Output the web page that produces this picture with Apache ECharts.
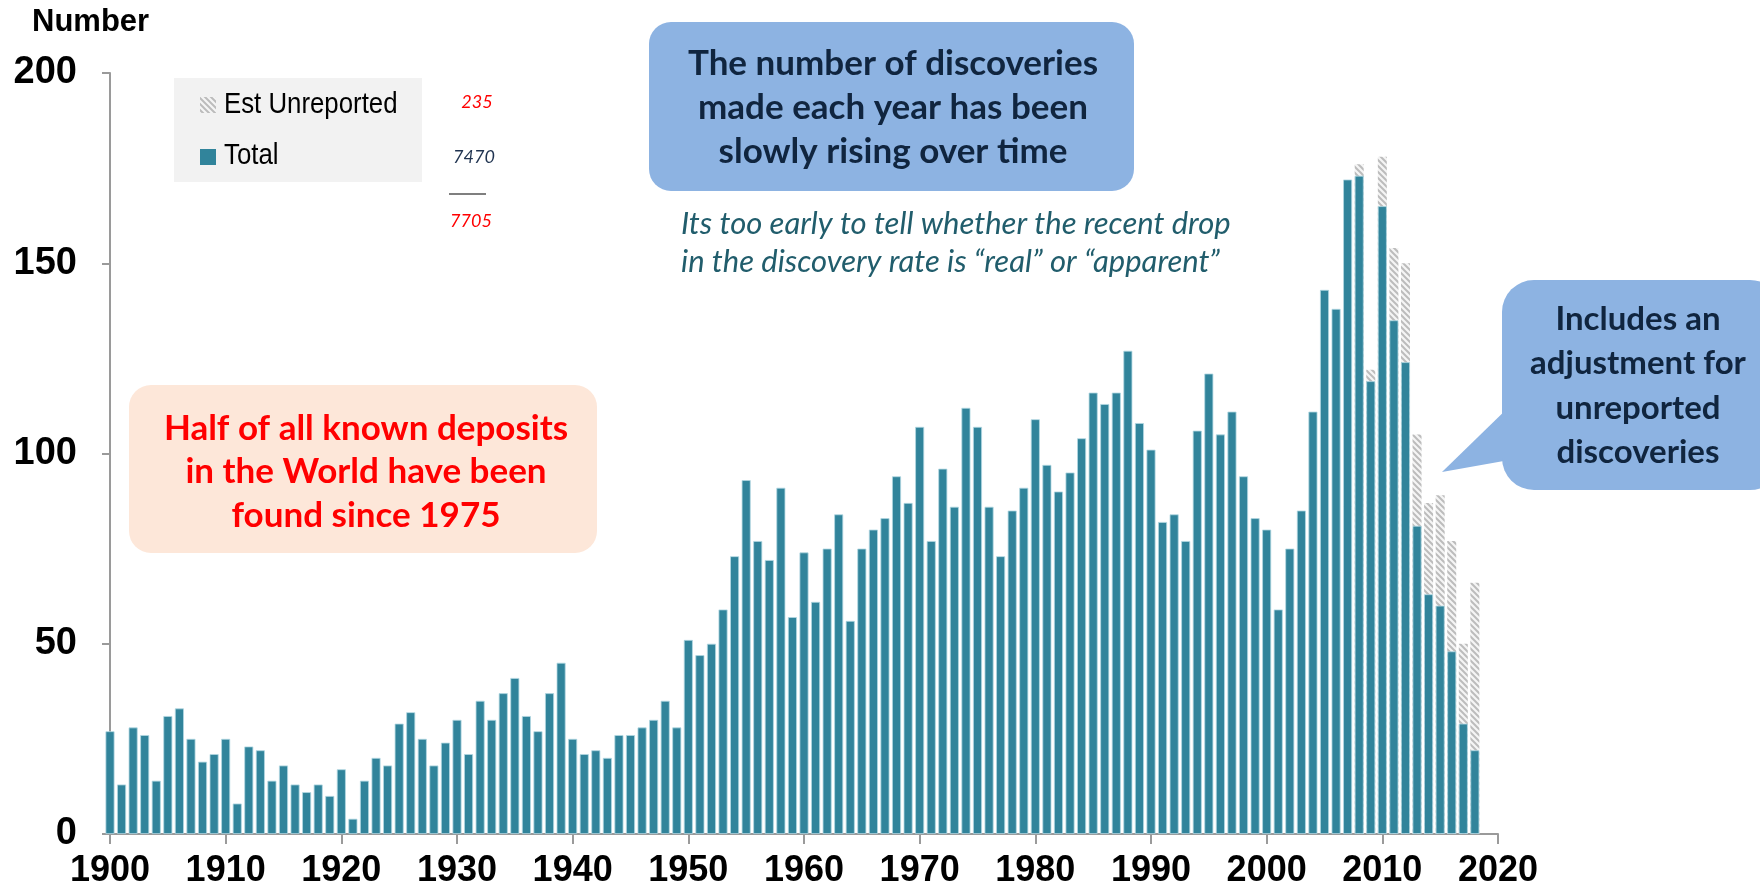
<!DOCTYPE html>
<html>
<head>
<meta charset="utf-8">
<script src="https://cdn.jsdelivr.net/npm/echarts@6/dist/echarts.min.js"></script>
<style>
  html, body { margin: 0; padding: 0; background: #fff; }
  #chart { width: 1760px; height: 896px; }
</style>
</head>
<body>
<div id="chart"></div>
<script>
// discoveries per year, 1900 .. 2018
const startYear = 1900;
const total = [
  27, 13, 28, 26, 14, 31, 33, 25, 19, 21,
  25, 8, 23, 22, 14, 18, 13, 11, 13, 10,
  17, 4, 14, 20, 18, 29, 32, 25, 18, 24,
  30, 21, 35, 30, 37, 41, 31, 27, 37, 45,
  25, 21, 22, 20, 26, 26, 28, 30, 35, 28,
  51, 47, 50, 59, 73, 93, 77, 72, 91, 57,
  74, 61, 75, 84, 56, 75, 80, 83, 94, 87,
  107, 77, 96, 86, 112, 107, 86, 73, 85, 91,
  109, 97, 90, 95, 104, 116, 113, 116, 127, 108,
  101, 82, 84, 77, 106, 121, 105, 111, 94, 83,
  80, 59, 75, 85, 111, 143, 138, 172, 173, 119,
  165, 135, 124, 81, 63, 60, 48, 29, 22
];
// estimated unreported discoveries (only recent years)
const unreportedYears = [2008, 2009, 2010, 2011, 2012, 2013, 2014, 2015, 2016, 2017, 2018];
const unreported = [3, 3, 13, 19, 26, 24, 24, 29, 29, 21, 44];

const xTicks = [1900, 1910, 1920, 1930, 1940, 1950, 1960, 1970, 1980, 1990, 2000, 2010, 2020];
const yTicks = [0, 50, 100, 150, 200];

const totalData = total.map((v, i) => [startYear + i, v]);
// the hatched part sits on top of the total: draw it from 0 to total + unreported, behind the teal bar
const unrepTop = unreportedYears.map((y, k) => [y, total[y - startYear] + unreported[k]]);

// diagonal hatch used for the unreported part
function hatch() {
  const c = document.createElement('canvas');
  c.width = 6; c.height = 6;
  const g = c.getContext('2d');
  g.fillStyle = '#f5f5f5';
  g.fillRect(0, 0, 6, 6);
  g.strokeStyle = '#bcbcbc';
  g.lineWidth = 2;
  g.beginPath();
  g.moveTo(-1, -1); g.lineTo(7, 7);
  g.moveTo(-4, 2); g.lineTo(4, 10);
  g.moveTo(2, -4); g.lineTo(10, 4);
  g.stroke();
  return c;
}

const hatchFill = { image: hatch(), repeat: 'repeat' };
const teal = '#31849b';
const navy = '#10253f';
const axisFont = '"Liberation Sans", Arial';
const legendFont = '30px "Liberation Sans", Arial';

let myChart = echarts.init(document.getElementById('chart'));
let option = {
  animation: false,
  grid: { left: 110, right: 262, top: 73, bottom: 62 },
  xAxis: {
    type: 'value',
    min: xTicks[0], max: xTicks[xTicks.length - 1], interval: 10,
    splitLine: { show: false },
    axisLine: { show: true, lineStyle: { color: '#9a9a9a', width: 2 } },
    axisTick: { show: true, length: 10, lineStyle: { color: '#9a9a9a', width: 2 } },
    axisLabel: {
      margin: 19,
      fontSize: 36, fontWeight: 'bold', color: '#000',
      fontFamily: axisFont,
      formatter: v => String(v)
    }
  },
  yAxis: {
    type: 'value',
    min: yTicks[0], max: yTicks[yTicks.length - 1], interval: 50,
    splitLine: { show: false },
    axisLine: { show: true, lineStyle: { color: '#9a9a9a', width: 2 } },
    axisTick: { show: true, length: 8, lineStyle: { color: '#9a9a9a', width: 2 } },
    axisLabel: {
      margin: 33,
      fontSize: 38, fontWeight: 'bold', color: '#000',
      fontFamily: axisFont
    }
  },
  series: [
    {
      name: 'Est Unreported',
      type: 'bar',
      barWidth: 9,
      barGap: '-100%',
      itemStyle: { color: hatchFill },
      data: unrepTop
    },
    {
      name: 'Total',
      type: 'bar',
      barWidth: 9,
      barGap: '-100%',
      itemStyle: { color: teal, borderColor: '#b3d8e2', borderWidth: 0.8 },
      data: totalData
    }
  ],
  graphic: [
    { type: 'text', left: 32, top: 7,
      style: { text: 'Number', font: 'bold 31px "Liberation Sans", Arial', fill: '#000' } },

    // legend box (narrow type, like the original)
    { type: 'rect', shape: { x: 174, y: 78, width: 248, height: 104 }, style: { fill: '#f2f2f2' } },
    { type: 'rect', shape: { x: 200, y: 97, width: 16, height: 16 }, style: { fill: hatchFill } },
    { type: 'text', x: 224, y: 105, scaleX: 0.86,
      style: { text: 'Est Unreported', font: legendFont, fill: '#000', align: 'left', verticalAlign: 'middle' } },
    { type: 'rect', shape: { x: 200, y: 149, width: 16, height: 16 }, style: { fill: teal } },
    { type: 'text', x: 224, y: 156, scaleX: 0.86,
      style: { text: 'Total', font: legendFont, fill: '#000', align: 'left', verticalAlign: 'middle' } },

    { type: 'text', x: 477, y: 102,
      style: { text: '235', font: 'italic 18px Lato, sans-serif', fill: '#ff0000', align: 'center', verticalAlign: 'middle' } },
    { type: 'text', x: 474, y: 157,
      style: { text: '7470', font: 'italic 18px Lato, sans-serif', fill: '#1f3350', align: 'center', verticalAlign: 'middle' } },
    { type: 'line', shape: { x1: 449, y1: 194, x2: 486, y2: 194 }, style: { stroke: '#555', lineWidth: 1.5 } },
    { type: 'text', x: 471, y: 221,
      style: { text: '7705', font: 'italic 18px Lato, sans-serif', fill: '#ff0000', align: 'center', verticalAlign: 'middle' } },

    // top callout
    { type: 'rect', shape: { x: 649, y: 22, width: 485, height: 169, r: 22 }, style: { fill: '#8db3e2' } },
    { type: 'text', x: 893, y: 108,
      style: { text: 'The number of discoveries\nmade each year has been\nslowly rising over time',
               font: 'bold 35px Lato, "Noto Sans", sans-serif', lineHeight: 44, fill: navy, align: 'center', verticalAlign: 'middle' } },
    { type: 'text', x: 681, y: 243,
      style: { text: 'Its too early to tell whether the recent drop\nin the discovery rate is \u201creal\u201d or \u201capparent\u201d',
               font: 'italic 31px Lato, sans-serif', lineHeight: 38, fill: '#215d6c', align: 'left', verticalAlign: 'middle' } },

    // right callout
    { type: 'polygon', shape: { points: [[1442, 472], [1515, 401], [1515, 459]] }, style: { fill: '#8db3e2' } },
    { type: 'rect', shape: { x: 1502, y: 280, width: 280, height: 210, r: 32 }, style: { fill: '#8db3e2' } },
    { type: 'text', x: 1638, y: 386,
      style: { text: 'Includes an\nadjustment for\nunreported\ndiscoveries',
               font: 'bold 33px Lato, "Noto Sans", sans-serif', lineHeight: 44.5, fill: navy, align: 'center', verticalAlign: 'middle' } },

    // left note
    { type: 'rect', shape: { x: 129, y: 385, width: 468, height: 168, r: 22 }, style: { fill: '#fde7d9' } },
    { type: 'text', x: 366, y: 472,
      style: { text: 'Half of all known deposits\nin the World have been\nfound since 1975',
               font: 'bold 35px Lato, "Noto Sans", sans-serif', lineHeight: 43.5, fill: '#ff0000', align: 'center', verticalAlign: 'middle' } }
  ]
};

myChart.setOption(option);
window.addEventListener('resize', function () {
  myChart.resize();
});
</script>
</body>
</html>
